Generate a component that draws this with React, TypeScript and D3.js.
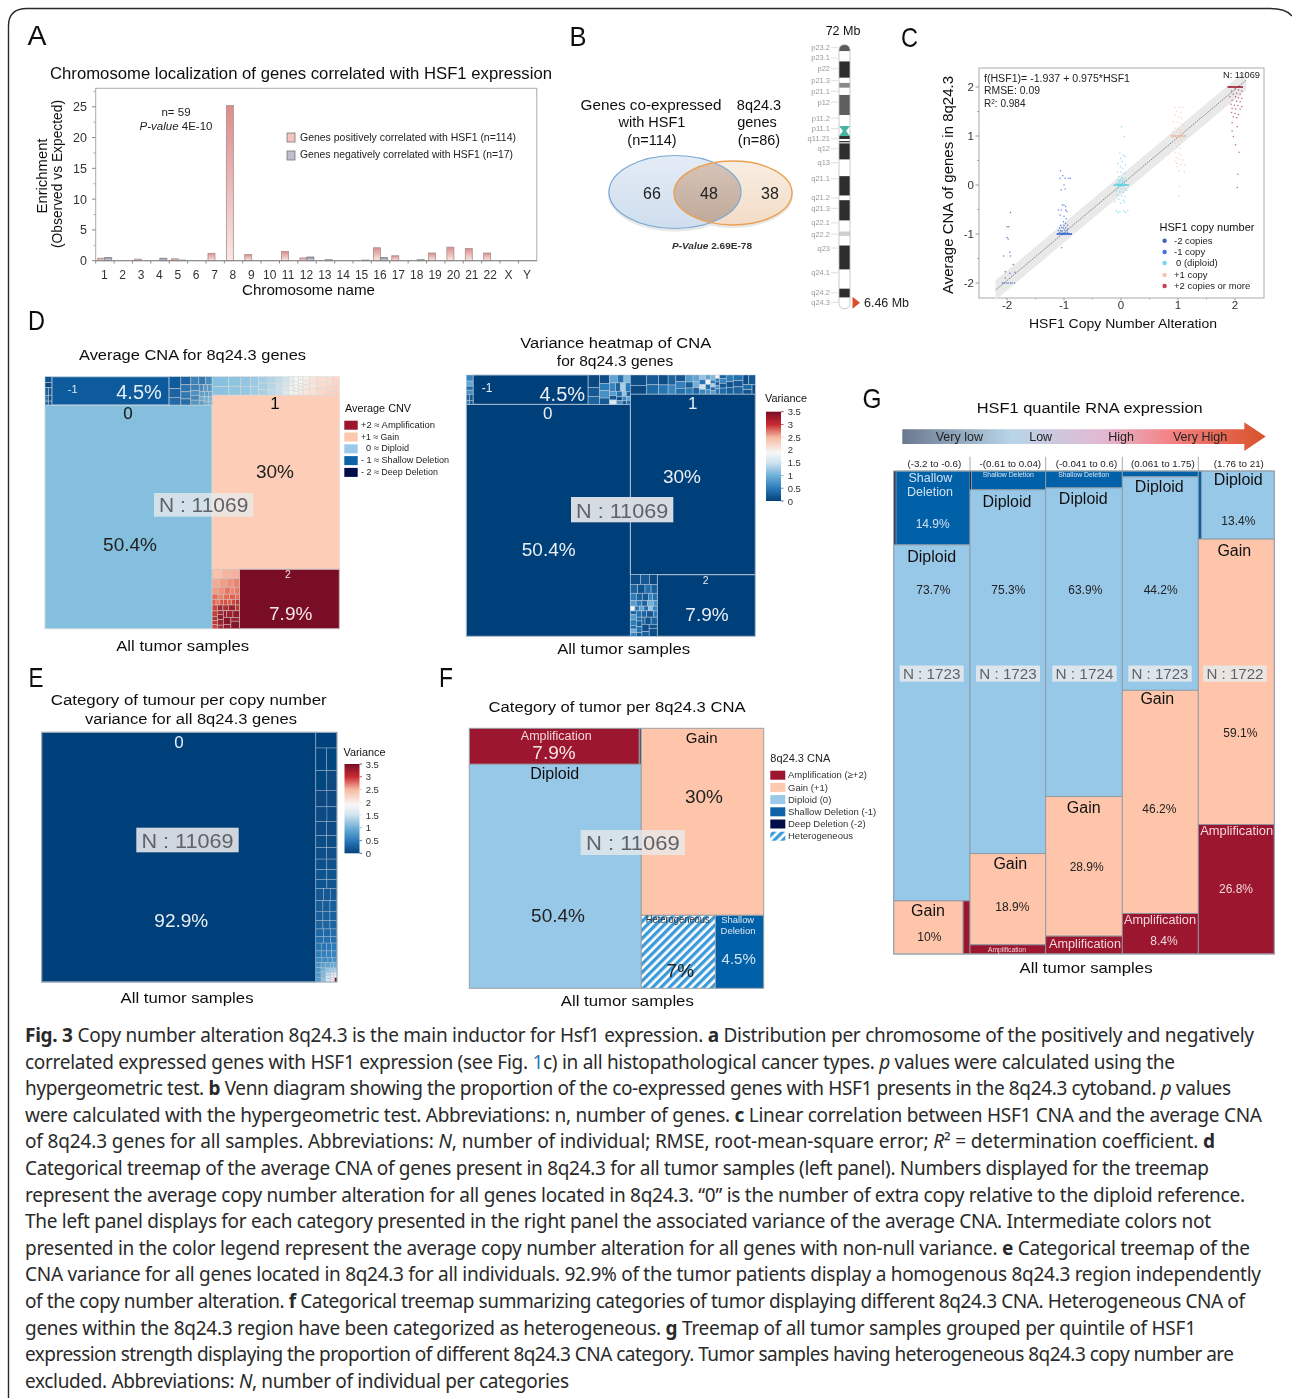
import React from "react";
import * as d3 from "d3";

const SANS = "'Liberation Sans', Arial, sans-serif";
const CAPTION_FONT = "'Noto Sans', 'Open Sans', sans-serif";

// ---------- Panel A
const chromosomes = ["1","2","3","4","5","6","7","8","9","10","11","12","13","14","15","16","17","18","19","20","21","22","X","Y"];
const positiveEnrichment = [0.4,0,0.25,0,0.3,0,1.2,25.2,1.0,0,1.5,0.45,0,0,0,2.1,0.8,0,1.25,2.2,2.0,1.25,0,0];
const negativeEnrichment = [0.5,0,0,0.4,0.1,0,0,0,0,0,0,0.6,0.15,0,0.1,0.5,0,0.15,0,0,0,0,0,0];
const enrichmentTicks = [0,5,10,15,20,25];
const enrichmentMinor = [2.5,7.5,12.5,17.5,22.5,27.5];

// ---------- Panel B
const vennCounts = [66,48,38];
const bandNames = ["p23.2","p23.1","p22","p21.3","p21.1","p12","p11.2","p11.1","q11.21","q12","q13","q21.1","q21.2","q21.3","q22.1","q22.2","q23","q24.1","q24.2","q24.3"];
const bandMb = [1.6,7.3,13.2,19.8,25.6,31.5,40.3,46.1,51.6,57.1,64.8,73.6,84.1,89.9,97.9,104,111.7,125.3,136.2,141.5];
const stainStart = [0,9.2,21,27.6,50.1,52.9,54.2,72.2,85.4,102.6,110.3,134];
const stainEnd = [3.5,18.1,23.6,38.6,51.8,53.6,63,82.8,96.5,105,123.4,138.8];
const stainColor = ["#5c5c5c","#2e2e2e","#8a8a8a","#5e5e5e","#333","#333","#2e2e2e","#2e2e2e","#2e2e2e","#cfcfcf","#2e2e2e","#2e2e2e"];

// ---------- Panel C
const cnaAxisTicks = [-2,-1,0,1,2];
const cnaMinorTicks = [-1.5,-0.5,0.5,1.5];
const groupMinus2 = [[-1.94,-0.56],[-2.0,-0.85],[-1.97,-0.85],[-2.0,-1.07],[-1.98,-1.1],[-2.06,-1.45],[-1.95,-1.37],[-1.94,-1.45],[-1.89,-1.62],[-2.03,-1.77],[-1.95,-1.8],[-1.86,-1.78],[-2.08,-2],[-2.05,-2],[-2.01,-2],[-1.98,-2],[-1.94,-2],[-1.91,-2],[-1.87,-2],[-2.03,-1.9]];
const groupMinus1 = [[-1.06,0.29],[-1.02,0.19],[-1.07,0.14],[-0.98,0.14],[-0.92,0.14],[-0.89,0.14],[-1,0],[-1.05,-0.1],[-0.98,-0.08],[-1.03,-0.41],[-1,-0.41],[-0.97,-0.44],[-1.1,-0.51],[-1.05,-0.51],[-0.97,-0.51],[-0.95,-0.54],[-1.07,-0.61],[-1,-0.64],[-0.96,-0.69],[-1.01,-0.75],[-0.97,-0.78],[-1.06,-0.82],[-1,-0.82],[-0.94,-0.82],[-1.08,-0.88],[-1.04,-0.86],[-1.01,-0.88],[-0.97,-0.87],[-0.93,-0.9],[-1.1,-0.93],[-1.06,-0.93],[-1.03,-0.94],[-0.99,-0.92],[-0.95,-0.93],[-1.08,-0.97],[-1.05,-0.96],[-1.02,-0.98],[-0.98,-0.97],[-0.94,-0.97],[-1.04,-1.28]];
const groupZero = [[0.01,1.19],[0.06,0.99],[-0.02,0.65],[0.04,0.61],[0.07,0.58],[0,0.54],[0.02,0.48],[-0.05,0.44],[0.08,0.41],[-0.01,0.37],[0.03,0.34],[-0.06,0.27],[0,0.26],[0.06,0.24],[-0.04,0.17],[0.02,0.15],[0.07,0.14],[-0.06,0.1],[-0.01,0.08],[0.04,0.07],[0.08,0.08],[-0.08,0.03],[-0.04,0.05],[0.01,0.03],[0.06,0.03],[-0.05,-0.07],[0.01,-0.08],[0.07,-0.08],[-0.08,-0.12],[-0.02,-0.14],[0.04,-0.15],[0.1,-0.11],[-0.06,-0.2],[0.01,-0.22],[0.07,-0.24],[-0.04,-0.29],[0.04,-0.31],[-0.11,-0.34],[-0.01,-0.37],[0.06,-0.35],[-0.08,-0.53],[-0.02,-0.54],[0.05,-0.53],[0.12,-0.52],[-0.05,-0.56],[0.08,-0.56],[-0.06,0.02],[-0.03,0.02],[0,0.01],[0.03,0.02],[0.06,0.01],[-0.05,-0.02],[-0.02,-0.03],[0.01,-0.02],[0.04,-0.03],[-0.03,0.09],[0,0.11],[0.03,0.1],[-0.02,0.05],[0.02,0.06]];
const groupPlus1 = [[0.95,1.58],[1.02,1.58],[1.08,1.58],[0.98,1.5],[1.05,1.48],[0.95,1.43],[1.01,1.39],[1.06,1.36],[0.92,1.29],[0.99,1.28],[1.05,1.26],[1.09,1.22],[0.95,1.16],[1.01,1.14],[1.06,1.12],[0.92,1.09],[0.98,1.09],[1.04,1.07],[1.09,1.05],[0.89,1.03],[0.95,1.02],[1.02,1.02],[1.06,1.02],[1.12,1.0],[0.91,0.97],[0.97,0.97],[1.04,0.97],[1.1,0.95],[0.94,0.92],[1,0.9],[1.05,0.91],[0.95,0.85],[1.02,0.83],[0.98,0.78],[1.04,0.75],[0.95,0.67],[1.01,0.65],[1.05,0.61],[0.97,0.56],[1.02,0.53],[1.08,0.51],[0.94,0.48],[0.98,0.44],[1.05,0.42],[1.12,0.41],[0.98,0.37],[1.02,0.29],[1.11,0.27],[1.02,-0.03],[1.01,-0.22]];
const groupPlus2 = [[2,1.96],[2.06,1.94],[1.94,1.92],[2.12,1.92],[2.03,1.87],[1.97,1.85],[2.09,1.85],[1.91,1.8],[2.01,1.8],[2.06,1.78],[2.12,1.77],[1.95,1.73],[2.03,1.71],[2.09,1.7],[1.93,1.65],[1.99,1.63],[2.05,1.62],[2.12,1.6],[1.95,1.56],[2.01,1.55],[2.09,1.55],[1.94,1.48],[2,1.46],[2.06,1.44],[1.97,1.39],[2.03,1.37],[1.95,1.27],[2.04,1.19],[1.95,1.1],[1.97,0.99],[2.01,0.82],[2.07,0.67],[2.05,0.22],[2.04,-0.05]];
const copyGroups = [groupMinus2, groupMinus1, groupZero, groupPlus1, groupPlus2];
const copyColors = ["#2a55b8","#2f62d8","#62d6ea","#ecc3ab","#b8304c"];
const copyLabels = ["-2 copies","-1 copy","0 (diploid)","+1 copy","+2 copies or more"];
const peakCentres = [-1,0,1,2];
const peakColors = ["#1f55c8","#4fcbdd","#e8b8a0","#9b152e"];

// ---------- Treemap shares (percent of tumour samples, by column > row > cell)
const avgCnaColumns: [string, number][][][] = [
  [[["deep",0.26],["shallow",4.47],["mid",1.64]],[["diploid",50.38]]],
  [[["upper",3.14]],[["gain",29.86]],[["lower",2.18],["amp",8.0]]],
];
const varianceEColumns: [string, number][][][] = [[[["main",92.85]]],[[["strip",7.15]]]];
const categoryColumns: [string, number][][][] = [
  [[["amp",7.99],["deep",0.09]],[["diploid",50.3]]],
  [[["gain",29.9]],[["het",7.07],["shallow",4.6]]],
];

// Small cells of the treemaps
const deepSizes = [6,5,4,4,3,3,2,2];
const deepCna = [-1.1,-1.3,-0.9,-1,-0.7,-1.2,-0.8,-1];
const deepVar = [0.6,0.9,0.4,0.7,0.3,0.2,0.5,0.2];
const midSizes = [14,10,9,8,7,7,6,6,5,5,5,4,4,4,3,3,3,3,2,2,2,2,2,1.5,1.5,1.5];
const midCna = [-1,-0.9,-0.85,-0.9,-0.75,-0.7,-0.8,-0.6,-0.7,-0.5,-0.6,-0.45,-0.55,-0.4,-0.5,-0.35,-0.4,-0.3,-0.3,-0.25,-0.2,-0.35,-0.15,-0.1,-0.2,-0.1];
const midVar = [0.05,0.2,0.3,0.1,0.5,0.7,0.2,0.9,0.4,1.1,0.6,0.3,1.3,0.5,0.8,0.2,1.6,0.4,0.1,0.7,1.2,0.3,0.6,0.2,0.9,0.4];
const upperSizes = [22,18,15,14,12,11,10,9,8,8,7,7,6,6,5,5,5,4,4,4,4,3,3,3,3,3,2,2,2,2,2,2,2,2,3,3,4,4,5,6,5,6,7,8,9,7,8,6,5,4];
const upperCna = [0.02,0.03,0.05,0.06,0.07,0.08,0.1,0.12,0.14,0.15,0.16,0.2,0.22,0.24,0.26,0.3,0.3,0.34,0.36,0.38,0.4,0.42,0.44,0.46,0.48,0.5,0.5,0.52,0.48,0.54,0.56,0.5,0.52,0.58,0.6,0.55,0.62,0.66,0.7,0.72,0.68,0.75,0.78,0.82,0.85,0.8,0.88,0.9,0.92,0.95];
const upperVar = [0.1,0.05,0.2,0.35,0.1,0.45,0.3,0.6,0.2,0.55,0.4,0.8,0.25,0.5,0.9,1.0,0.3,1.2,0.45,1.5,0.6,0.9,1.8,0.4,0.7,1.1,0.5,1.3,0.35,0.8,1.9,0.5,0.25,0.7,0.45,0.3,0.6,0.2,0.35,0.5,0.15,0.25,0.4,0.2,0.3,0.1,0.2,0.35,0.15,0.1];
const lowerSizes = [9,8,7,6,6,5,5,4,4,4,3,3,3,3,3,3,2,2,2,2,2,2,2,2,3,3,2,2,2,3,3,4,2,2,3,3,2,2,4,4,5,3,3,6];
const lowerCna = [1.05,1.1,1.12,1.15,1.2,1.25,1.3,1.2,1.25,1.35,1.3,1.35,1.4,1.3,1.4,1.45,1.4,1.45,1.35,1.5,1.55,1.45,1.6,1.7,1.6,1.65,1.75,1.7,1.6,1.8,1.75,1.85,1.7,1.8,1.9,1.85,1.8,1.9,1.85,1.9,1.95,1.9,1.85,1.95];
const lowerVar = [0.1,0.2,0.05,0.3,0.15,0.4,0.25,0.5,0.3,0.2,0.6,0.4,0.8,0.5,0.3,1.0,0.7,1.9,0.5,0.9,0.4,1.2,0.6,0.3,0.8,0.5,0.35,1.0,0.6,0.4,0.3,0.2,0.5,0.35,0.25,0.4,0.2,0.3,0.15,0.3,0.1,0.25,0.15,0.1];
const stripSizes = [40,30,28,26,24,22,20,20,18,18,17,16,15,15,14,14,13,13,12,12,11,11,10,10,9,9,9,8,8,8,7,7,7,7,6,6,6,6,5,5,5,5,5,4,4,4,4,4,4,3,3,3,3,3,3,3,3,2,2,2,2,2,2,2,2,2,2,2,2,1,1,1,1,1,1,1.2];
const stripVar = [0.02,0.03,0.04,0.04,0.05,0.05,0.06,0.07,0.08,0.08,0.09,0.1,0.1,0.11,0.12,0.13,0.14,0.15,0.16,0.17,0.18,0.19,0.2,0.21,0.22,0.24,0.25,0.26,0.27,0.28,0.3,0.31,0.32,0.34,0.35,0.37,0.38,0.4,0.42,0.44,0.46,0.48,0.5,0.52,0.55,0.57,0.6,0.62,0.65,0.68,0.7,0.72,0.75,0.78,0.8,0.85,0.9,0.92,0.95,1.0,1.05,1.1,1.15,1.2,1.25,1.3,1.4,1.5,1.6,1.7,1.8,1.85,1.9,1.85,1.95,3.4];

const varianceLabels = ["3.5","3","2.5","2","1.5","1","0.5","0"];
const varianceStops = [0,0.5,1,1.5,1.9,2.5,3,3.5];
const varianceColors = ["#03417a","#2b7bba","#6fb0d8","#cfe3ee","#f7f7f7","#f6b8a0","#c82a30","#7a0d26"];
const cnaStops = [-2,-1,0,0.5,1,1.5,2];
const cnaColors = ["#021a4d","#0e5a9d","#84bfde","#f4f4f2","#fdcdb8","#e0543f","#7a0d26"];

const avgLegendLabels = ["+2 ≈ Amplification","+1 ≈ Gain","  0 ≈ Diploid","- 1 ≈ Shallow Deletion","- 2 ≈ Deep Deletion"];
const avgLegendTextWidths = [74,38,48,88,77];
const avgLegendColors = ["#9b152e","#fdc8ad","#9ac9e9","#0a62a8","#04114a"];
const catLegendLabels = ["Amplification (≥+2)","Gain (+1)","Diploid (0)","Shallow Deletion (-1)","Deep Deletion (-2)","Heterogeneous"];
const catLegendColors = ["#9b152e","#fdc8ad","#9ac9e9","#0a62a8","#04114a","url(#hatch)"];

// ---------- Panel G: percent by quintile, with share of cell in the row
const quintileRanges = ["(-3.2 to -0.6)","-(0.61 to 0.04)","(-0.041 to 0.6)","(0.061 to 1.75)","(1.76 to 21)"];
const quintileN = ["N : 1723","N : 1723","N : 1724","N : 1723","N : 1722"];
const quintile1: [number, [string, number][]][] = [[15.3,[["deep",0.03],["shallow",0.97]]],[73.7,[["diploid",1]]],[11,[["gain",0.91],["amp",0.09]]]];
const quintile2: [number, [string, number][]][] = [[3.9,[["deep",0.02],["shallow",0.98]]],[75.3,[["diploid",1]]],[18.9,[["gain",1]]],[1.9,[["amp",1]]]];
const quintile3: [number, [string, number][]][] = [[3.5,[["shallow",1]]],[63.9,[["diploid",1]]],[28.9,[["gain",1]]],[3.7,[["amp",1]]]];
const quintile4: [number, [string, number][]][] = [[1.2,[["shallow",1]]],[44.2,[["diploid",1]]],[46.2,[["gain",1]]],[8.4,[["amp",1]]]];
const quintile5: [number, [string, number][]][] = [[14.1,[["shallow",0.045],["diploid",0.955]]],[59.1,[["gain",1]]],[26.8,[["amp",1]]]];
const quintiles = [quintile1,quintile2,quintile3,quintile4,quintile5];
const quintileEdges = [893.7,970,1045.7,1122.3,1198.3,1274.3];
const categoryFill: Record<string,string> = { amp:"#9b152e", gain:"#fec5aa", diploid:"#98c8e8", shallow:"#0561a8", deep:"#1a2a50", het:"url(#hatch)" };

// ---------- Caption
const captionLines: [string, number][] = [
  ["*Fig. 3* Copy number alteration 8q24.3 is the main inductor for Hsf1 expression. *a* Distribution per chromosome of the positively and negatively",1229],
  ["correlated expressed genes with HSF1 expression (see Fig. ^1^c) in all histopathological cancer types. _p_ values were calculated using the",1150],
  ["hypergeometric test. *b* Venn diagram showing the proportion of the co-expressed genes with HSF1 presents in the 8q24.3 cytoband. _p_ values",1206],
  ["were calculated with the hypergeometric test. Abbreviations: n, number of genes. *c* Linear correlation between HSF1 CNA and the average CNA",1237],
  ["of 8q24.3 genes for all samples. Abbreviations: _N_, number of individual; RMSE, root-mean-square error; _R_² = determination coefficient. *d*",1190],
  ["Categorical treemap of the average CNA of genes present in 8q24.3 for all tumor samples (left panel). Numbers displayed for the treemap",1184],
  ["represent the average copy number alteration for all genes located in 8q24.3. “0” is the number of extra copy relative to the diploid reference.",1220],
  ["The left panel displays for each category presented in the right panel the associated variance of the average CNA. Intermediate colors not",1186],
  ["presented in the color legend represent the average copy number alteration for all genes with non-null variance. *e* Categorical treemap of the",1225],
  ["CNA variance for all genes located in 8q24.3 for all individuals. 92.9% of the tumor patients display a homogenous 8q24.3 region independently",1236],
  ["of the copy number alteration. *f* Categorical treemap summarizing categories of tumor displaying different 8q24.3 CNA. Heterogeneous CNA of",1220],
  ["genes within the 8q24.3 region have been categorized as heterogeneous. *g* Treemap of all tumor samples grouped per quintile of HSF1",1171],
  ["expression strength displaying the proportion of different 8q24.3 CNA category. Tumor samples having heterogeneous 8q24.3 copy number are",1209],
  ["excluded. Abbreviations: _N_, number of individual per categories",544],
];

// ---------- helpers
type TP = { x:number; y:number; s?:number; a?:"start"|"middle"|"end"; c?:string; w?:number; b?:boolean; i?:boolean; rot?:boolean; children:React.ReactNode; op?:number };
const T = ({x,y,s=12,a="middle",c="#111",w,b,i,rot,children,op}:TP) => (
  <text x={rot?0:x} y={rot?0:y} fontSize={s} textAnchor={a} fill={c} fontFamily={SANS}
    fontWeight={b?"bold":"normal"} fontStyle={i?"italic":"normal"} opacity={op}
    transform={rot?`translate(${x},${y}) rotate(-90)`:undefined}
    {...(w?{textLength:w,lengthAdjust:"spacingAndGlyphs"}:{})} style={{whiteSpace:"pre"}}>{children}</text>
);

const cnaColor = d3.scaleLinear<string>().domain(cnaStops).range(cnaColors);
const varColor = d3.scaleLinear<string>().domain(varianceStops).range(varianceColors);

const nestedTile = (n:any,x0:number,y0:number,x1:number,y1:number) =>
  (n.depth%2===0 ? d3.treemapDice : d3.treemapSlice)(n,x0,y0,x1,y1);

function layoutPanel(cols:[string,number][][][], x0:number,y0:number,x1:number,y1:number){
  const data = { children: cols.map(rows=>({ children: rows.map(cells=>({ children: cells.map(([name,v])=>({name,v})) })) })) };
  const root = d3.hierarchy<any>(data).sum((d:any)=>d.v||0);
  d3.treemap<any>().size([x1-x0,y1-y0]).tile(nestedTile)(root);
  const out:Record<string,{x0:number;x1:number;y0:number;y1:number}> = {};
  root.leaves().forEach((l:any)=>{ out[l.data.name]={x0:l.x0+x0,x1:l.x1+x0,y0:l.y0+y0,y1:l.y1+y0}; });
  return out;
}

function Mosaic({box,sizes,values,color,stroke="#c9c9c9",sw=0.5}:{box:{x0:number;x1:number;y0:number;y1:number};sizes:number[];values:number[];color:(v:number)=>string;stroke?:string;sw?:number}){
  const root = d3.hierarchy<any>({children:sizes.map((s,i)=>({s,i}))}).sum((d:any)=>d.s||0);
  d3.treemap<any>().size([box.x1-box.x0,box.y1-box.y0]).tile(d3.treemapSquarify.ratio(1.2))(root);
  return <g transform={`translate(${box.x0},${box.y0})`}>
    {root.leaves().map((l:any,k:number)=><rect key={k} x={l.x0} y={l.y0} width={l.x1-l.x0} height={l.y1-l.y0} fill={color(values[l.data.i])} stroke={stroke} strokeWidth={sw}/>)}
  </g>;
}

const Cell = ({b,fill,stroke,sw=1}:{b:{x0:number;x1:number;y0:number;y1:number};fill:string;stroke:string;sw?:number}) =>
  <rect x={b.x0} y={b.y0} width={b.x1-b.x0} height={b.y1-b.y0} fill={fill} stroke={stroke} strokeWidth={sw}/>;

const NBox = ({x0,x1,y0,y1,base,s=21,fill,label="N : 11069",op}:{x0:number;x1:number;y0:number;y1:number;base:number;s?:number;fill:string;label?:string;op?:number}) => <g>
  <rect x={x0} y={y0} width={x1-x0} height={y1-y0} fill={fill} opacity={op}/>
  <T x={(x0+x1)/2} y={base} s={s} c="#5f6468" w={(x1-x0)*0.9}>{label}</T>
</g>;

function VarianceLegend({x,titleY,y0,y1,labelX,gid}:{x:number;titleY:number;y0:number;y1:number;labelX:number;gid:string}){
  const sc = d3.scaleLinear().domain([3.5,0]).range([y0,y1]);
  const tickVals = [3.5,3,2.5,2,1.5,1,0.5,0];
  return <g>
    <defs><linearGradient id={gid} x1="0" y1="1" x2="0" y2="0">
      {varianceStops.map((v,i)=><stop key={i} offset={v/3.5} stopColor={varianceColors[i]}/>)}
    </linearGradient></defs>
    <T x={x} y={titleY} s={10.5} a="start" w={42}>Variance</T>
    <rect x={x+1} y={y0} width={15} height={y1-y0} fill={`url(#${gid})`}/>
    {tickVals.map((v,i)=><g key={i}>
      <line x1={x+16} x2={x+18.5} y1={sc(v)} y2={sc(v)} stroke={varColor(v)} strokeWidth={0.8}/>
      <T x={labelX} y={sc(v)+3.5} s={9.5} a="start" c="#333">{varianceLabels[i]}</T>
    </g>)}
  </g>;
}

function captionSegments(line:string){
  const parts = line.split(/(\*[^*]+\*|_[^_]+_|\^[^^]+\^)/).filter(p=>p);
  return parts.map((p,i)=>{
    if(p[0]==="*") return <tspan key={i} fontWeight="bold">{p.slice(1,-1)}</tspan>;
    if(p[0]==="_") return <tspan key={i} fontStyle="italic">{p.slice(1,-1)}</tspan>;
    if(p[0]==="^") return <tspan key={i} fill="#2a7ab5">{p.slice(1,-1)}</tspan>;
    return <tspan key={i}>{p}</tspan>;
  });
}

// ---------- panels
function PanelA(){
  const x = d3.scaleBand<string>().domain(chromosomes).range([95.7,536.8]);
  const inner = d3.scaleBand<string>().domain(["pos","neg"]).range([2,16]);
  const y = d3.scaleLinear().domain([0,28]).range([260.7,88.3]);
  return <g>
    <defs><linearGradient id="posBar" x1="0" y1="0" x2="0" y2="1"><stop offset="0" stopColor="#dc8c8c"/><stop offset="1" stopColor="#f8e8e6"/></linearGradient>
    <linearGradient id="negBar" x1="0" y1="0" x2="0" y2="1"><stop offset="0" stopColor="#8a8a9e"/><stop offset="1" stopColor="#dcdce6"/></linearGradient></defs>
    <T x={37} y={45} s={28} c="#111" w={19}>A</T>
    <T x={301} y={78.7} s={16.5} w={502}>Chromosome localization of genes correlated with HSF1 expression</T>
    <rect x={95.7} y={88.3} width={441.1} height={172.4} fill="#fff" stroke="#aaa" strokeWidth={1}/>
    {enrichmentTicks.map(t=><g key={t}>
      <line x1={92} x2={95.7} y1={y(t)} y2={y(t)} stroke="#888"/>
      <T x={87} y={y(t)+4.5} s={12.5} a="end" c="#333">{t}</T></g>)}
    {enrichmentMinor.map(t=><line key={t} x1={93.5} x2={95.7} y1={y(t)} y2={y(t)} stroke="#aaa"/>)}
    {chromosomes.map(c=><g key={c}>
      <line x1={x(c)!} x2={x(c)!} y1={260.7} y2={263.5} stroke="#888"/>
      <T x={x(c)!+x.bandwidth()/2-0.6} y={279.3} s={12} c="#333">{c}</T></g>)}
    {chromosomes.map((c,i)=><g key={c}>
      {positiveEnrichment[i]>0 && <rect x={x(c)!+inner("pos")!} width={inner.bandwidth()} y={y(positiveEnrichment[i])} height={y(0)-y(positiveEnrichment[i])} fill="url(#posBar)" stroke="#a8908c" strokeWidth={0.8}/>}
      {negativeEnrichment[i]>0 && <rect x={x(c)!+inner("neg")!} width={inner.bandwidth()} y={y(negativeEnrichment[i])} height={y(0)-y(negativeEnrichment[i])} fill="url(#negBar)" stroke="#808088" strokeWidth={0.8}/>}
    </g>)}
    <line x1={95.7} x2={536.8} y1={260.7} y2={260.7} stroke="#888"/>
    <T x={47} y={176} s={14} rot w={75}>Enrichment</T>
    <T x={62} y={174} s={14} rot w={148}>(Observed vs Expected)</T>
    <T x={308.5} y={295} s={14.5} w={133}>Chromosome name</T>
    <T x={176} y={116} s={11.5} c="#222">n= 59</T>
    <text x={176} y={130} fontSize={11.5} textAnchor="middle" fontFamily={SANS} fill="#222"><tspan fontStyle="italic">P-value</tspan> 4E-10</text>
    <rect x={287} y={133} width={8} height={9} fill="#f4c5c0" stroke="#666" strokeWidth={0.7}/>
    <rect x={287} y={151} width={8} height={9} fill="#c0c0cc" stroke="#666" strokeWidth={0.7}/>
    <T x={300} y={141} s={10.5} a="start" c="#222" w={216}>Genes positively correlated with HSF1 (n=114)</T>
    <T x={300} y={158} s={10.5} a="start" c="#222" w={213}>Genes negatively correlated with HSF1 (n=17)</T>
  </g>;
}

function PanelB(){
  const chrY = d3.scaleLinear().domain([0,145]).range([44.7,308.7]);
  const L = {cx:675,cy:192,rx:66,ry:36.5};
  const R = {cx:733,cy:193,rx:59,ry:32};
  return <g>
    <defs>
      <clipPath id="vennL"><ellipse cx={L.cx} cy={L.cy} rx={L.rx} ry={L.ry}/></clipPath>
      <clipPath id="chrClip"><rect x={839} y={44.7} width={11} height={264} rx={5}/></clipPath>
      <linearGradient id="vennLFill" x1="0" y1="0" x2="0" y2="1"><stop offset="0" stopColor="#e4ecf6"/><stop offset="1" stopColor="#cfdeee"/></linearGradient>
      <linearGradient id="vennRFill" x1="0" y1="0" x2="0" y2="1"><stop offset="0" stopColor="#f8eee3"/><stop offset="1" stopColor="#f3dcc6"/></linearGradient>
      <linearGradient id="vennOFill" x1="0" y1="0" x2="0" y2="1"><stop offset="0" stopColor="#d6c4b8"/><stop offset="1" stopColor="#bfa999"/></linearGradient>
    </defs>
    <T x={578} y={46} s={28} w={17}>B</T>
    <T x={651} y={110} s={14.5} w={141}>Genes co-expressed</T>
    <T x={652} y={127} s={14.5}>with HSF1</T>
    <T x={652} y={145} s={14.5}>(n=114)</T>
    <T x={759} y={110} s={14.5}>8q24.3</T>
    <T x={757} y={127} s={14.5}>genes</T>
    <T x={759} y={145} s={14.5}>(n=86)</T>
    <ellipse cx={L.cx} cy={L.cy+2} rx={L.rx+1} ry={L.ry+1} fill="#e8e8e8"/>
    <ellipse cx={R.cx} cy={R.cy+2} rx={R.rx+1} ry={R.ry+1} fill="#e8e8e8"/>
    <ellipse cx={L.cx} cy={L.cy} rx={L.rx} ry={L.ry} fill="url(#vennLFill)"/>
    <ellipse cx={R.cx} cy={R.cy} rx={R.rx} ry={R.ry} fill="url(#vennRFill)"/>
    <g clipPath="url(#vennL)"><ellipse cx={R.cx} cy={R.cy} rx={R.rx} ry={R.ry} fill="url(#vennOFill)"/></g>
    <ellipse cx={L.cx} cy={L.cy} rx={L.rx} ry={L.ry} fill="none" stroke="#7aa8d4" strokeWidth={1.2}/>
    <ellipse cx={R.cx} cy={R.cy} rx={R.rx} ry={R.ry} fill="none" stroke="#eba050" strokeWidth={1.4}/>
    <T x={652} y={199} s={16} c="#222">{vennCounts[0]}</T>
    <T x={709} y={199} s={16} c="#222">{vennCounts[1]}</T>
    <T x={770} y={199} s={16} c="#222">{vennCounts[2]}</T>
    <text x={672} y={249} fontSize={9} fontFamily={SANS} fontWeight="bold" fill="#333" textLength={80} lengthAdjust="spacingAndGlyphs"><tspan fontStyle="italic">P-Value</tspan>  2.69E-78</text>
    <T x={843} y={35} s={12.5} c="#111">72 Mb</T>
    <rect x={839} y={44.7} width={11} height={264} rx={5} fill="#fff"/>
    <g clipPath="url(#chrClip)">
      {stainStart.map((s,i)=><rect key={i} x={839} width={11} y={chrY(s)} height={chrY(stainEnd[i])-chrY(s)} fill={stainColor[i]}/>)}
      <path d={`M839 ${chrY(44.6)} H850 L846 ${chrY(47.35)} L850 ${chrY(50.1)} H839 L843 ${chrY(47.35)} Z`} fill="#4ab5a0"/>
    </g>
    <rect x={839} y={44.7} width={11} height={264} rx={5} fill="none" stroke="#bdbdbd" strokeWidth={0.8}/>
    {bandNames.map((b,i)=><g key={b}>
      <line x1={831} x2={838} y1={chrY(bandMb[i])} y2={chrY(bandMb[i])} stroke="#cfcfe8" strokeWidth={0.7}/>
      <T x={830} y={chrY(bandMb[i])+2.5} s={7.5} a="end" c="#999">{b}</T></g>)}
    <path d={`M852.5 ${chrY(138.5)} L860 ${chrY(141.5)+0.5} L852.5 ${chrY(145)} Z`} fill="#d9502e"/>
    <T x={864} y={307} s={12} a="start" c="#222" w={45}>6.46 Mb</T>
  </g>;
}

function PanelC(){
  const x = d3.scaleLinear().domain([-2,2]).range([1007,1235]);
  const y = d3.scaleLinear().domain([-2,2]).range([283,87]);
  const lineEnds = [-2.2,2.2];
  const reg = (v:number)=>0.975*v;
  const band = d3.area<number>().x(v=>x(v)).y0(v=>y(reg(v)-0.2)).y1(v=>y(reg(v)+0.2))(lineEnds)!;
  const ln = d3.line<number>().x(v=>x(v)).y(v=>y(reg(v)))(lineEnds)!;
  const legendY = [240.7,252,263,275,286];
  return <g>
    <T x={909.5} y={47} s={28} w={17}>C</T>
    <rect x={979} y={68} width={285} height={230} fill="#fff" stroke="#aaa"/>
    <path d={band} fill="#e9e9e9"/>
    <path d={ln} stroke="#555" strokeWidth={0.7} strokeDasharray="1.5 1" fill="none"/>
    {copyGroups.map((g,i)=><g key={i}>{g.map((p,k)=><circle key={k} cx={x(p[0])} cy={y(p[1])} r={0.75} fill={copyColors[i]} opacity={0.75}/>)}</g>)}
    {peakCentres.map((c,i)=><line key={c} x1={x(c-0.13)} x2={x(c+0.14)} y1={y(c)} y2={y(c)} stroke={peakColors[i]} strokeWidth={i===3?1.6:1.5}/>)}
    {cnaAxisTicks.map(t=><g key={t}>
      <line x1={975.5} x2={979} y1={y(t)} y2={y(t)} stroke="#999"/>
      <T x={974} y={y(t)+4} s={11.5} a="end" c="#333">{t}</T>
      <line x1={x(t)} x2={x(t)} y1={298} y2={300.5} stroke="#999"/>
      <T x={x(t)} y={308.5} s={11.5} c="#333">{t}</T>
    </g>)}
    {cnaMinorTicks.map(t=><g key={t}>
      <line x1={977} x2={979} y1={y(t)} y2={y(t)} stroke="#aaa"/>
      <line x1={x(t)} x2={x(t)} y1={298} y2={299.5} stroke="#aaa"/>
    </g>)}
    <T x={953} y={185} s={14} rot w={218}>Average CNA of genes in 8q24.3</T>
    <T x={1123} y={328} s={13.5} w={188}>HSF1 Copy Number Alteration</T>
    <T x={984} y={82} s={10} a="start" c="#222" w={146}>f(HSF1)= -1.937 + 0.975*HSF1</T>
    <T x={984} y={94} s={10} a="start" c="#222" w={56}>RMSE: 0.09</T>
    <text x={984} y={107} fontSize={10} fontFamily={SANS} fill="#222">R<tspan fontSize={6.5} dy={-3}>2</tspan><tspan dy={3}>: 0.984</tspan></text>
    <T x={1223} y={78} s={9.5} a="start" c="#222" w={37}>N: 11069</T>
    <T x={1159.5} y={231} s={10.5} a="start" c="#111" w={95}>HSF1 copy number</T>
    {copyLabels.map((l,i)=><g key={l}>
      <circle cx={1164.6} cy={legendY[i]} r={2.2} fill={copyColors[i]} opacity={0.9}/>
      <T x={i===2?1176:1174} y={legendY[i]+3} s={9.5} a="start" c="#222">{l}</T></g>)}
  </g>;
}

function PanelDLeft(){
  const b = layoutPanel(avgCnaColumns,45,376.7,339.3,628.7);
  const st = "#c8d4dc";
  return <g>
    <T x={36.5} y={330} s={28} w={17}>D</T>
    <T x={192.5} y={360} s={15.5} w={227}>Average CNA for 8q24.3 genes</T>
    <Cell b={b.diploid} fill="#84bfde" stroke={st}/>
    <Cell b={b.gain} fill="#fdcdb8" stroke="#e8d8d0"/>
    <Cell b={b.shallow} fill="#0e5a9d" stroke={st}/>
    <Cell b={b.amp} fill="#7a0d26" stroke="#c8b8b8"/>
    <Mosaic box={b.deep} sizes={deepSizes} values={deepCna} color={cnaColor}/>
    <Mosaic box={b.mid} sizes={midSizes} values={midCna} color={cnaColor}/>
    <Mosaic box={b.upper} sizes={upperSizes} values={upperCna} color={cnaColor} stroke="#d8d8d8"/>
    <Mosaic box={b.lower} sizes={lowerSizes} values={lowerCna} color={cnaColor} stroke="#d0c0c0"/>
    <T x={72.7} y={392.7} s={11} c="#dfe8f2">-1</T>
    <T x={139} y={399} s={20} c="#e4eef6">4.5%</T>
    <T x={128} y={419} s={17} c="#111">0</T>
    <T x={275} y={409} s={17} c="#111">1</T>
    <T x={275} y={478} s={19} c="#222">30%</T>
    <T x={130} y={551} s={19} c="#222">50.4%</T>
    <T x={288} y={578} s={10.5} c="#f0dfe2">2</T>
    <T x={290.7} y={620} s={19} c="#f4e8ea">7.9%</T>
    <NBox x0={154} x1={253.3} y0={493} y1={516.7} base={512} fill="#e8eaec" op={0.78}/>
    <T x={182.7} y={650.7} s={15} w={133}>All tumor samples</T>
    <T x={345} y={411.7} s={10.5} a="start" w={66}>Average CNV</T>
    {avgLegendLabels.map((l,i)=><g key={l}>
      <rect x={344.3} y={420.7+i*11.8} width={13.4} height={9} fill={avgLegendColors[i]}/>
      <T x={361} y={427.7+i*11.8} s={9.5} a="start" c="#222" w={avgLegendTextWidths[i]}>{l}</T></g>)}
  </g>;
}

function PanelDRight(){
  const b = layoutPanel(avgCnaColumns,466.3,375,755.3,636.3);
  const st = "#aebfd0";
  const dark = "#03417a";
  return <g>
    <T x={615.7} y={347.7} s={15.5} w={191}>Variance heatmap of CNA</T>
    <T x={615} y={365.7} s={15.5}>for 8q24.3 genes</T>
    {["diploid","gain","shallow","amp"].map(k=><Cell key={k} b={b[k]} fill={dark} stroke={st}/>)}
    <Mosaic box={b.deep} sizes={deepSizes} values={deepVar} color={varColor} stroke="#b8c8d8"/>
    <Mosaic box={b.mid} sizes={midSizes} values={midVar} color={varColor} stroke="#b8c8d8"/>
    <Mosaic box={b.upper} sizes={upperSizes} values={upperVar} color={varColor} stroke="#b8c8d8"/>
    <Mosaic box={b.lower} sizes={lowerSizes} values={lowerVar} color={varColor} stroke="#b8c8d8"/>
    <T x={487} y={391.7} s={12} c="#e8eef4">-1</T>
    <T x={562.3} y={400.7} s={20} c="#e8eef4">4.5%</T>
    <T x={547.7} y={419} s={17} c="#e8eef4">0</T>
    <T x={692.7} y={409} s={17} c="#e8eef4">1</T>
    <T x={682} y={483.3} s={19} c="#e8eef4">30%</T>
    <T x={548.7} y={556} s={19} c="#e8eef4">50.4%</T>
    <T x={705.7} y={584.3} s={10.5} c="#e8eef4">2</T>
    <T x={707} y={620.7} s={19} c="#e8eef4">7.9%</T>
    <NBox x0={571} x1={673.3} y0={497} y1={522.3} base={518} fill="#d5dbe3"/>
    <T x={623.7} y={654.3} s={15} w={133}>All tumor samples</T>
    <VarianceLegend x={765} titleY={402.3} y0={411.7} y1={501} labelX={787.7} gid="varGradD"/>
  </g>;
}

function PanelE(){
  const b = layoutPanel(varianceEColumns,41.7,732.3,337,982);
  return <g>
    <T x={36} y={686.7} s={28} w={15}>E</T>
    <T x={188.7} y={705} s={15.5} w={276}>Category of tumour per copy number</T>
    <T x={191} y={724} s={15.5} w={212}>variance for all 8q24.3 genes</T>
    <Cell b={b.main} fill="#03417a" stroke="#8fa6bb"/>
    <Mosaic box={b.strip} sizes={stripSizes} values={stripVar} color={varColor} stroke="#a9bccd" sw={0.4}/>
    <rect x={41.7} y={732.3} width={295.3} height={249.7} fill="none" stroke="#9aa8b4"/>
    <T x={179} y={747.7} s={17} c="#e8eef4">0</T>
    <NBox x0={136.3} x1={238.7} y0={827.7} y1={852.3} base={847.7} fill="#cfd6df"/>
    <T x={181.3} y={927.3} s={19} c="#e8eef4">92.9%</T>
    <T x={187} y={1002.7} s={15} w={133}>All tumor samples</T>
    <VarianceLegend x={343.5} titleY={755.7} y0={764} y1={853.3} labelX={365.7} gid="varGradE"/>
  </g>;
}

function PanelF(){
  const b = layoutPanel(categoryColumns,469.3,728.3,763.7,988.3);
  return <g>
    <T x={446} y={687} s={28} w={14}>F</T>
    <T x={617} y={712.3} s={15.5} w={257}>Category of tumor per 8q24.3 CNA</T>
    {Object.keys(b).map(k=><Cell key={k} b={b[k]} fill={categoryFill[k]} stroke="#9aa0a6"/>)}
    <T x={556.3} y={740} s={12.5} c="#f2d8dc">Amplification</T>
    <T x={554} y={759.3} s={19} c="#f6e6e8">7.9%</T>
    <T x={701.7} y={743.3} s={15} c="#111">Gain</T>
    <T x={704} y={803.3} s={19} c="#222">30%</T>
    <T x={554.7} y={779.3} s={16} c="#111">Diploid</T>
    <T x={558} y={921.7} s={19} c="#222">50.4%</T>
    <T x={677.7} y={923.3} s={11.5} c="#333" w={64}>Heterogeneous</T>
    <T x={737.7} y={923} s={9.5} c="#d8e6f2" w={33}>Shallow</T>
    <T x={738} y={934} s={9.5} c="#d8e6f2" w={35}>Deletion</T>
    <T x={738.7} y={964.3} s={15} c="#cfe2f2">4.5%</T>
    <T x={680.3} y={976.7} s={19} c="#222">7%</T>
    <NBox x0={580.7} x1={685} y0={830} y1={855} base={850.3} fill="#e8eaec" op={0.78}/>
    <T x={627.3} y={1005.7} s={15} w={133}>All tumor samples</T>
    <T x={770.3} y={762} s={10} a="start" c="#222" w={60}>8q24.3 CNA</T>
    {catLegendLabels.map((l,i)=><g key={l}>
      <rect x={770.3} y={770.7+i*12.2} width={15} height={9} fill={catLegendColors[i]}/>
      <T x={788} y={778.3+i*12.2} s={9.5} a="start" c="#333">{l}</T></g>)}
  </g>;
}

function PanelG(){
  const y = d3.scaleLinear().domain([0,100]).range([471,954]);
  const arrowStops = [0,0.3,0.55,0.75,1];
  const arrowColors = ["#6a7890","#b8d5e8","#e3b9d3","#f47f7f","#d8522a"];
  const nBoxes = [[899.7,963.7],[976,1040],[1052.3,1116.7],[1128.3,1191.7],[1203.3,1266.7]];
  return <g>
    <defs><linearGradient id="arrowFill" x1="0" y1="0" x2="1" y2="0">
      {arrowStops.map((o,i)=><stop key={i} offset={o} stopColor={arrowColors[i]}/>)}
    </linearGradient></defs>
    <T x={872} y={408} s={28} w={19}>G</T>
    <T x={1089.7} y={413.3} s={15.5} w={226}>HSF1 quantile RNA expression</T>
    <path d="M902.3 429.3 H1244.3 V422.3 L1265.7 436.6 L1244.3 451 V444 H902.3 Z" fill="url(#arrowFill)"/>
    <T x={959.3} y={440.5} s={12.5} c="#222">Very low</T>
    <T x={1040.7} y={440.5} s={12.5} c="#222">Low</T>
    <T x={1121} y={440.5} s={12.5} c="#222">High</T>
    <T x={1200} y={440.5} s={12.5} c="#222">Very High</T>
    {quintileRanges.map((r,i)=><T key={r} x={(quintileEdges[i]+quintileEdges[i+1])/2+2.5} y={467.3} s={9.8} c="#222">{r}</T>)}
    {quintileEdges.slice(1,5).map(e=><line key={e} x1={e} x2={e} y1={456.7} y2={471} stroke="#aaa"/>)}
    {quintiles.map((rows,q)=>{
      const x0 = quintileEdges[q], x1 = quintileEdges[q+1];
      const cx = d3.scaleLinear().domain([0,1]).range([x0,x1]);
      let acc = 0;
      return <g key={q}>{rows.map(([pct,cells],r)=>{
        const top = y(acc); acc += pct; const bot = y(acc);
        let f = 0;
        return <g key={r}>{cells.map(([name,share],c)=>{
          const l = cx(f); f += share; const rr = cx(f);
          return <rect key={c} x={l} y={top} width={rr-l} height={bot-top} fill={categoryFill[name]} stroke={name==="deep"?"none":"#8c9aa5"} strokeWidth={0.9}/>;
        })}</g>;
      })}</g>;
    })}
    <rect x={893.7} y={471} width={380.6} height={483} fill="none" stroke="#9aa6ae" strokeWidth={1}/>
    <T x={930.3} y={482} s={12.5} c="#cfe0ef">Shallow</T>
    <T x={930} y={496} s={12.5} c="#cfe0ef">Deletion</T>
    <T x={932.7} y={528.3} s={12} c="#cfe0ef">14.9%</T>
    <T x={931.7} y={561.7} s={16} c="#111">Diploid</T>
    <T x={933.3} y={594.3} s={12} c="#222">73.7%</T>
    <T x={1008.3} y={476.5} s={6.5} c="#d8e6f2" w={51}>Shallow Deletion</T>
    <T x={1007} y={506.7} s={16} c="#111">Diploid</T>
    <T x={1008.3} y={594.3} s={12} c="#222">75.3%</T>
    <T x={1083.7} y={476.5} s={6.5} c="#d8e6f2" w={51}>Shallow Deletion</T>
    <T x={1083.3} y={504} s={16} c="#111">Diploid</T>
    <T x={1085.3} y={594.3} s={12} c="#222">63.9%</T>
    <T x={1159.3} y={492} s={16} c="#111">Diploid</T>
    <T x={1160.7} y={593.8} s={12} c="#222">44.2%</T>
    <T x={1238.3} y={485} s={16} c="#111">Diploid</T>
    <T x={1238.3} y={525.3} s={12} c="#222">13.4%</T>
    <T x={1234.3} y={556} s={16} c="#111">Gain</T>
    <T x={1240.3} y={737.3} s={12} c="#222">59.1%</T>
    <T x={1236.7} y={835.3} s={12.5} c="#f2d8dc" w={73}>Amplification</T>
    <T x={1236} y={892.7} s={12} c="#f2d8dc">26.8%</T>
    <T x={928} y={916} s={16} c="#111">Gain</T>
    <T x={929.3} y={940.7} s={12} c="#222">10%</T>
    <T x={1010.3} y={868.7} s={16} c="#111">Gain</T>
    <T x={1012.3} y={910.7} s={12} c="#222">18.9%</T>
    <T x={1007} y={951.5} s={6.5} c="#f2d8dc" w={38}>Amplification</T>
    <T x={1083.7} y={812.7} s={16} c="#111">Gain</T>
    <T x={1086.7} y={871} s={12} c="#222">28.9%</T>
    <T x={1085} y={947.5} s={12.5} c="#f2d8dc" w={72}>Amplification</T>
    <T x={1157.3} y={704.3} s={16} c="#111">Gain</T>
    <T x={1159.3} y={813.3} s={12} c="#222">46.2%</T>
    <T x={1160} y={924.3} s={12.5} c="#f2d8dc" w={72}>Amplification</T>
    <T x={1164} y={945.3} s={12} c="#f2d8dc">8.4%</T>
    {quintileN.map((n,i)=><NBox key={i} x0={nBoxes[i][0]} x1={nBoxes[i][1]} y0={665.5} y1={681.7} base={679} s={15} fill="#e8eaec" op={0.85} label={n}/>)}
    <T x={1086} y={972.7} s={15} w={133}>All tumor samples</T>
  </g>;
}

export default function App(){
  return (
    <svg width={1292} height={1398} viewBox="0 0 1292 1398" style={{position:"absolute",left:0,top:0,background:"#fff"}}>
      <defs>
        <pattern id="hatch" width={6} height={6} patternUnits="userSpaceOnUse" patternTransform="rotate(45)">
          <rect width={6} height={6} fill="#fff"/>
          <rect width={3.3} height={6} fill="#3a9ad9"/>
        </pattern>
        <filter id="soft" x="0" y="0" width="100%" height="100%" filterUnits="userSpaceOnUse" primitiveUnits="userSpaceOnUse">
          <feGaussianBlur stdDeviation="0.45"/>
        </filter>
      </defs>
      <path d="M8.5 1398 V26 Q8.5 8.5 27 8.5 H1270 Q1286 8.5 1292 16" fill="none" stroke="#2a2a2a" strokeWidth={1.4}/>
      <g filter="url(#soft)">
        <PanelA/>
        <PanelB/>
        <PanelC/>
        <PanelDLeft/>
        <PanelDRight/>
        <PanelE/>
        <PanelF/>
        <PanelG/>
      </g>
      {captionLines.map(([line,w],i)=>(
        <text key={i} x={25} y={1042+i*26.6} fontSize={19} fontFamily={CAPTION_FONT} fill="#2a2a2a" textLength={w} lengthAdjust="spacing" style={{whiteSpace:"pre"}}>{captionSegments(line)}</text>
      ))}
    </svg>
  );
}
